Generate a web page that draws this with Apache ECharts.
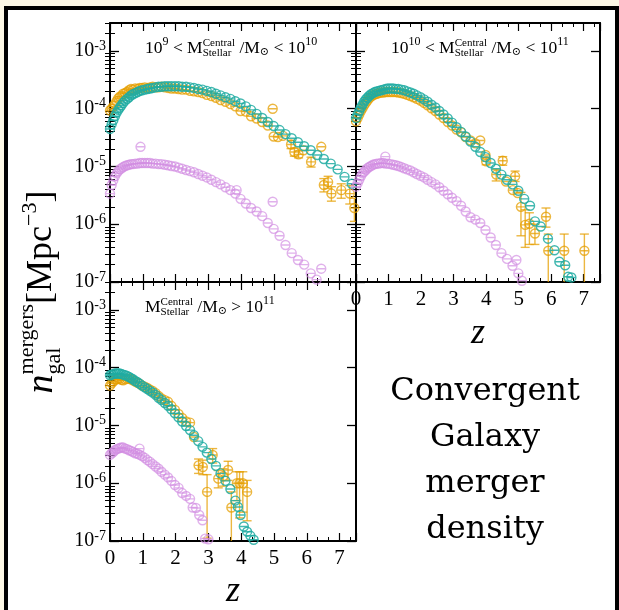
<!DOCTYPE html>
<html><head><meta charset="utf-8">
<script src="https://cdn.jsdelivr.net/npm/echarts@6.0.0/dist/echarts.min.js"></script>
<style>
html,body{margin:0;padding:0;background:#fdf8e6;width:619px;height:610px;overflow:hidden}
#frame{position:absolute;left:4px;top:6px;width:615px;height:620px;box-sizing:border-box;border:4px solid #000;background:#fff}
#chart{position:absolute;left:0;top:0;width:619px;height:610px}
</style></head><body>
<div id="frame"></div><div id="chart"></div>
<script>
// ---------------- data (z, number density in Mpc^-3) ----------------
const yMajor = [1e-7, 1e-6, 1e-5, 1e-4, 1e-3];
const yMinor = [2e-7,3e-7,4e-7,5e-7,6e-7,7e-7,8e-7,9e-7,2e-6,3e-6,4e-6,5e-6,6e-6,7e-6,8e-6,9e-6,
  2e-5,3e-5,4e-5,5e-5,6e-5,7e-5,8e-5,9e-5,2e-4,3e-4,4e-4,5e-4,6e-4,7e-4,8e-4,9e-4,2e-3,3e-3];
const panelLow = ['9', '10'];   // exponents of the mass bins
const panelHigh = ['10', '11'];

// Panel A : 1e9 < M < 1e10
const tealA = [[0,4.47e-5],[0.05,5.37e-5],[0.1,6.31e-5],[0.15,7.41e-5],[0.2,8.51e-5],[0.25,9.55e-5],[0.3,1.05e-4],[0.35,1.15e-4],[0.4,1.26e-4],[0.46,1.38e-4],[0.52,1.48e-4],[0.58,1.58e-4],[0.64,1.70e-4],[0.7,1.78e-4],[0.77,1.86e-4],[0.84,1.95e-4],[0.91,2.04e-4],[0.98,2.09e-4],[1.06,2.14e-4],[1.14,2.19e-4],[1.22,2.24e-4],[1.3,2.29e-4],[1.39,2.34e-4],[1.48,2.40e-4],[1.57,2.40e-4],[1.67,2.45e-4],[1.77,2.45e-4],[1.87,2.45e-4],[1.98,2.45e-4],[2.09,2.45e-4],[2.2,2.40e-4],[2.32,2.40e-4],[2.44,2.34e-4],[2.56,2.29e-4],[2.69,2.19e-4],[2.82,2.14e-4],[2.95,2.04e-4],[3.09,1.95e-4],[3.23,1.82e-4],[3.37,1.70e-4],[3.52,1.58e-4],[3.67,1.48e-4],[3.82,1.35e-4],[3.98,1.23e-4],[4.14,1.10e-4],[4.3,9.55e-5],[4.47,8.13e-5],[4.64,6.92e-5],[4.81,5.89e-5],[4.99,5.01e-5],[5.17,4.27e-5],[5.35,3.63e-5],[5.54,3.09e-5],[5.73,2.63e-5],[5.92,2.24e-5],[6.12,1.91e-5],[6.32,1.58e-5],[6.52,1.35e-5],[6.73,1.12e-5],[6.94,8.91e-6],[7.15,6.61e-6],[7.37,5.01e-6]];
const orangeA = [[0,9.33e-5],[0.05,1.0e-4],[0.1,1.10e-4],[0.15,1.20e-4],[0.2,1.35e-4],[0.25,1.51e-4],[0.3,1.62e-4],[0.35,1.66e-4],[0.4,1.82e-4],[0.46,1.86e-4],[0.52,1.95e-4],[0.58,2.09e-4],[0.64,2.19e-4],[0.7,2.14e-4],[0.77,2.24e-4],[0.84,2.19e-4],[0.91,2.29e-4],[0.98,2.29e-4],[1.06,2.34e-4],[1.14,2.29e-4],[1.22,2.34e-4],[1.3,2.40e-4],[1.39,2.34e-4],[1.48,2.34e-4],[1.57,2.40e-4],[1.67,2.34e-4],[1.77,2.29e-4],[1.87,2.24e-4],[1.98,2.24e-4],[2.09,2.19e-4],[2.2,2.14e-4],[2.32,2.14e-4],[2.44,2.04e-4],[2.56,2.0e-4],[2.69,1.95e-4],[2.82,1.86e-4],[2.95,1.74e-4],[3.09,1.66e-4],[3.23,1.55e-4],[3.37,1.41e-4],[3.52,1.32e-4],[3.67,1.20e-4],[3.82,1.10e-4],[3.98,9.12e-5],[4.14,8.91e-5],[4.3,7.41e-5],[4.47,6.76e-5],[4.64,5.89e-5],[4.81,5.13e-5],[4.96,1.0e-4],[4.99,3.31e-5],[5.12,3.24e-5],[5.27,3.39e-5],[5.52,2.40e-5],[5.62,1.78e-5],[5.75,1.62e-5],[5.9,1.91e-5],[6.13,1.20e-5],[6.44,2.19e-5],[6.52,4.79e-6],[6.65,5.37e-6],[6.75,3.39e-6],[7.05,3.89e-6],[7.31,3.39e-6],[7.45,1.91e-6]];
const errA = [[5.52,2.04e-5,2.82e-5],[5.62,1.51e-5,2.09e-5],[5.75,1.41e-5,1.86e-5],[6.13,9.77e-6,1.45e-5],[6.52,3.63e-6,6.17e-6],[6.65,4.17e-6,6.76e-6],[6.75,2.51e-6,4.47e-6],[7.05,2.82e-6,5.01e-6],[7.31,2.24e-6,4.68e-6],[7.45,1.12e-6,2.82e-6]];
const violetA = [[0,3.39e-6],[0.05,4.79e-6],[0.1,5.75e-6],[0.15,6.76e-6],[0.2,7.59e-6],[0.25,8.32e-6],[0.3,8.91e-6],[0.35,9.33e-6],[0.4,9.77e-6],[0.46,1.02e-5],[0.52,1.05e-5],[0.58,1.07e-5],[0.64,1.10e-5],[0.7,1.10e-5],[0.77,1.12e-5],[0.84,1.12e-5],[0.91,1.15e-5],[0.93,2.19e-5],[0.98,1.15e-5],[1.06,1.15e-5],[1.14,1.15e-5],[1.22,1.15e-5],[1.3,1.12e-5],[1.39,1.12e-5],[1.48,1.10e-5],[1.57,1.10e-5],[1.67,1.07e-5],[1.77,1.05e-5],[1.87,1.02e-5],[1.98,1.0e-5],[2.09,9.55e-6],[2.2,9.12e-6],[2.32,8.71e-6],[2.44,8.32e-6],[2.56,7.94e-6],[2.69,7.41e-6],[2.82,6.92e-6],[2.95,6.46e-6],[3.09,5.89e-6],[3.23,5.37e-6],[3.37,4.90e-6],[3.52,4.37e-6],[3.67,3.89e-6],[3.82,3.39e-6],[3.86,3.89e-6],[3.98,2.75e-6],[4.14,2.29e-6],[4.3,1.91e-6],[4.47,1.66e-6],[4.64,1.38e-6],[4.81,1.05e-6],[4.96,2.45e-6],[4.99,8.32e-7],[5.17,6.31e-7],[5.35,4.37e-7],[5.54,3.16e-7],[5.73,2.40e-7],[5.92,2.0e-7],[6.12,1.41e-7],[6.3,1.10e-7],[6.44,1.70e-7],[6.52,9.5e-8]];

// Panel B : 1e10 < M < 1e11
const tealB = [[0,6.92e-5],[0.05,7.94e-5],[0.1,9.12e-5],[0.15,1.05e-4],[0.2,1.17e-4],[0.25,1.32e-4],[0.3,1.45e-4],[0.35,1.55e-4],[0.4,1.66e-4],[0.46,1.78e-4],[0.52,1.86e-4],[0.58,1.95e-4],[0.64,2.0e-4],[0.7,2.04e-4],[0.77,2.09e-4],[0.84,2.14e-4],[0.91,2.19e-4],[0.98,2.24e-4],[1.06,2.24e-4],[1.14,2.24e-4],[1.22,2.19e-4],[1.3,2.19e-4],[1.39,2.14e-4],[1.48,2.09e-4],[1.57,2.0e-4],[1.67,1.91e-4],[1.77,1.82e-4],[1.87,1.70e-4],[1.98,1.58e-4],[2.09,1.45e-4],[2.2,1.32e-4],[2.32,1.17e-4],[2.44,1.05e-4],[2.56,9.12e-5],[2.69,7.94e-5],[2.82,6.76e-5],[2.95,5.75e-5],[3.09,4.79e-5],[3.23,3.98e-5],[3.37,3.31e-5],[3.52,2.69e-5],[3.67,2.19e-5],[3.82,1.78e-5],[3.98,1.45e-5],[4.14,1.15e-5],[4.3,9.12e-6],[4.47,7.24e-6],[4.64,5.89e-6],[4.81,4.90e-6],[4.99,3.80e-6],[5.17,2.75e-6],[5.35,2.09e-6],[5.5,1.12e-6],[5.68,9.12e-7],[5.9,5.62e-7],[6.1,3.55e-7],[6.25,2.24e-7],[6.43,1.95e-7],[6.52,1.23e-7],[6.62,1.20e-7]];
const orangeB = [[0,6.03e-5],[0.05,6.92e-5],[0.1,7.94e-5],[0.15,9.12e-5],[0.2,1.02e-4],[0.25,1.15e-4],[0.3,1.26e-4],[0.35,1.38e-4],[0.4,1.51e-4],[0.46,1.62e-4],[0.52,1.70e-4],[0.58,1.78e-4],[0.64,1.82e-4],[0.7,1.86e-4],[0.77,1.91e-4],[0.84,1.91e-4],[0.91,1.95e-4],[0.98,1.95e-4],[1.06,1.95e-4],[1.14,1.95e-4],[1.22,1.95e-4],[1.3,1.91e-4],[1.39,1.86e-4],[1.48,1.82e-4],[1.57,1.74e-4],[1.67,1.66e-4],[1.77,1.58e-4],[1.87,1.48e-4],[1.98,1.38e-4],[2.09,1.26e-4],[2.2,1.15e-4],[2.32,1.02e-4],[2.44,9.12e-5],[2.56,7.94e-5],[2.69,6.92e-5],[2.82,5.89e-5],[2.95,5.13e-5],[3.09,4.37e-5],[3.23,3.89e-5],[3.37,3.24e-5],[3.52,2.82e-5],[3.67,2.51e-5],[3.82,2.82e-5],[3.98,1.58e-5],[4.0,1.23e-5],[4.31,7.24e-6],[4.51,1.26e-5],[4.61,5.50e-6],[4.82,3.89e-6],[4.89,6.76e-6],[4.97,3.47e-6],[5.07,2.0e-6],[5.2,9.77e-7],[5.33,1.02e-6],[5.5,6.92e-7],[5.84,1.35e-6],[5.91,3.47e-7],[6.4,3.47e-7],[7.02,3.47e-7]];
const errB = [[4.0,1.07e-5,1.41e-5],[4.31,5.62e-6,8.91e-6],[4.51,1.05e-5,1.48e-5],[4.89,5.50e-6,8.32e-6],[5.07,6.31e-7,3.55e-6],[5.2,3.98e-7,1.78e-6],[5.33,4.47e-7,1.58e-6],[5.5,4.47e-7,1.0e-6],[5.84,8.91e-7,1.91e-6],[5.91,6.31e-8,6.76e-7],[6.4,6.31e-8,6.76e-7],[7.02,6.31e-8,6.76e-7]];
const violetB = [[0,4.47e-6],[0.05,5.13e-6],[0.1,5.89e-6],[0.15,6.76e-6],[0.2,7.59e-6],[0.25,8.13e-6],[0.3,8.71e-6],[0.35,9.33e-6],[0.4,9.77e-6],[0.46,1.02e-5],[0.52,1.07e-5],[0.58,1.10e-5],[0.64,1.12e-5],[0.7,1.12e-5],[0.77,1.15e-5],[0.84,1.15e-5],[0.9,1.48e-5],[0.91,1.12e-5],[0.98,1.12e-5],[1.06,1.10e-5],[1.14,1.07e-5],[1.22,1.05e-5],[1.3,1.02e-5],[1.39,9.77e-6],[1.48,9.33e-6],[1.57,8.91e-6],[1.67,8.51e-6],[1.77,7.94e-6],[1.87,7.41e-6],[1.98,6.92e-6],[2.09,6.46e-6],[2.2,5.89e-6],[2.32,5.37e-6],[2.44,4.90e-6],[2.56,4.37e-6],[2.69,3.80e-6],[2.82,3.31e-6],[2.95,2.88e-6],[3.09,2.51e-6],[3.23,2.09e-6],[3.37,1.66e-6],[3.52,1.32e-6],[3.67,1.20e-6],[3.82,1.05e-6],[3.98,7.94e-7],[4.14,5.89e-7],[4.3,4.37e-7],[4.47,3.16e-7],[4.64,2.51e-7],[4.81,1.91e-7],[4.93,2.40e-7],[4.99,1.41e-7],[5.1,1.05e-7],[5.2,9.5e-8]];

// Panel C : M > 1e11
const tealC = [[0,7.41e-5],[0.05,7.59e-5],[0.1,7.76e-5],[0.15,7.94e-5],[0.2,7.94e-5],[0.25,7.94e-5],[0.3,7.94e-5],[0.35,7.76e-5],[0.4,7.59e-5],[0.46,7.41e-5],[0.52,7.24e-5],[0.58,6.92e-5],[0.64,6.61e-5],[0.7,6.31e-5],[0.77,5.89e-5],[0.84,5.62e-5],[0.91,5.25e-5],[0.98,4.90e-5],[1.06,4.57e-5],[1.14,4.27e-5],[1.22,3.98e-5],[1.3,3.72e-5],[1.39,3.39e-5],[1.48,3.02e-5],[1.57,2.75e-5],[1.67,2.45e-5],[1.77,2.19e-5],[1.87,1.91e-5],[1.98,1.62e-5],[2.09,1.38e-5],[2.2,1.17e-5],[2.32,9.77e-6],[2.44,8.32e-6],[2.56,6.76e-6],[2.69,5.37e-6],[2.82,4.27e-6],[2.95,3.39e-6],[3.09,2.63e-6],[3.23,2.0e-6],[3.37,1.48e-6],[3.52,1.10e-6],[3.67,7.94e-7],[3.82,5.01e-7],[3.9,3.89e-7],[3.98,2.82e-7],[4.08,1.78e-7],[4.18,1.45e-7],[4.28,1.23e-7],[4.38,1.05e-7],[4.46,9.0e-8]];
const orangeC = [[0,4.90e-5],[0.05,5.37e-5],[0.1,5.75e-5],[0.15,6.17e-5],[0.2,6.31e-5],[0.25,6.46e-5],[0.3,6.46e-5],[0.35,6.17e-5],[0.4,6.03e-5],[0.46,6.31e-5],[0.52,6.46e-5],[0.58,6.46e-5],[0.64,6.31e-5],[0.7,6.03e-5],[0.77,5.75e-5],[0.84,5.50e-5],[0.91,5.25e-5],[0.98,4.90e-5],[1.06,4.68e-5],[1.14,4.47e-5],[1.22,4.17e-5],[1.3,3.98e-5],[1.39,3.63e-5],[1.48,3.24e-5],[1.57,2.95e-5],[1.67,2.75e-5],[1.77,2.57e-5],[1.87,2.19e-5],[1.98,1.86e-5],[2.09,1.58e-5],[2.2,1.35e-5],[2.32,1.17e-5],[2.44,1.12e-5],[2.56,6.31e-6],[2.7,2.04e-6],[2.83,1.91e-6],[2.96,7.08e-7],[3.13,3.09e-6],[3.3,1.20e-6],[3.45,1.32e-6],[3.6,1.70e-6],[3.7,3.80e-7],[3.87,1.0e-6],[3.95,1.0e-6],[4.05,1.0e-6],[4.18,7.08e-7]];
const errC = [[2.7,1.48e-6,2.63e-6],[2.83,1.41e-6,2.51e-6],[2.96,1.12e-7,1.41e-6],[3.13,2.24e-6,3.98e-6],[3.3,8.32e-7,1.66e-6],[3.45,8.91e-7,1.78e-6],[3.6,1.12e-6,2.40e-6],[3.7,6.31e-8,7.08e-7],[3.87,5.01e-7,1.58e-6],[3.95,2.51e-7,1.58e-6],[4.05,3.16e-7,1.58e-6],[4.18,2.24e-7,1.12e-6]];
const violetC = [[0,3.09e-6],[0.05,3.31e-6],[0.1,3.47e-6],[0.15,3.72e-6],[0.2,3.89e-6],[0.25,3.98e-6],[0.3,4.07e-6],[0.35,4.17e-6],[0.4,4.17e-6],[0.46,3.98e-6],[0.52,3.89e-6],[0.58,3.72e-6],[0.64,3.63e-6],[0.7,3.47e-6],[0.77,3.31e-6],[0.84,3.24e-6],[0.9,3.98e-6],[0.91,3.09e-6],[0.98,2.95e-6],[1.06,2.75e-6],[1.14,2.51e-6],[1.22,2.34e-6],[1.3,2.14e-6],[1.39,1.95e-6],[1.48,1.78e-6],[1.57,1.58e-6],[1.67,1.41e-6],[1.77,1.26e-6],[1.87,1.10e-6],[1.98,9.33e-7],[2.09,8.32e-7],[2.2,6.76e-7],[2.32,6.03e-7],[2.44,5.37e-7],[2.52,3.80e-7],[2.62,3.72e-7],[2.72,2.82e-7],[2.82,2.29e-7],[2.9,1.10e-7],[3.0,1.07e-7],[3.05,9.5e-8]];

// ---------------- styling / layout ----------------
const SERIF = "'Liberation Serif', 'DejaVu Serif', serif";
const C_OR = 'rgba(230,159,0,0.75)';
const C_TE = 'rgba(32,172,162,0.85)';
const C_VI = 'rgba(210,140,225,0.68)';
const YMIN = 1e-7, YMAX = 3.05e-3;
const SYM = 'path://M0,5C0,2.24 2.24,0 5,0C7.76,0 10,2.24 10,5C10,7.76 7.76,10 5,10C2.24,10 0,7.76 0,5ZM0,5L10,5';
const G = [
  {left:110, top:23, width:246, height:259},
  {left:356, top:23, width:244, height:259},
  {left:110, top:282, width:246, height:259}
];

const cv = document.createElement('canvas').getContext('2d');
function tw(t, size, it){ cv.font = (it ? 'italic ' : '') + size + 'px ' + SERIF; return cv.measureText(t).width; }
function T(t, x, y, size, it){
  return {type:'text', x:x, y:y, silent:true, style:{text:t, fontSize:size, fontFamily:SERIF,
    fontStyle: it ? 'italic' : 'normal', fill:'#000', align:'left', verticalAlign:'middle'}};
}
function segW(sg){ return sg.stack ? Math.max(tw(sg.stack[0], sg.size), tw(sg.stack[1], sg.size)) : tw(sg.t, sg.size, sg.it); }
function mathEls(segs, x0, y0){
  let x = x0; const els = [];
  segs.forEach(sg => {
    if (sg.stack) { els.push(T(sg.stack[0], x, y0 + sg.dy[0], sg.size)); els.push(T(sg.stack[1], x, y0 + sg.dy[1], sg.size)); }
    else els.push(T(sg.t, x, y0 + (sg.dy || 0), sg.size, sg.it));
    x += segW(sg);
  });
  return els;
}
function totalW(segs){ return segs.reduce((a, s) => a + segW(s), 0); }

const BS = 17.5, SS = 12;
function binTitle(lo, hi){
  return [{t:'10',size:BS},{t:lo,size:SS,dy:-6},{t:' < M',size:BS},{stack:['Central','Stellar'],size:SS-1,dy:[-5,5]},
          {t:' /M',size:BS},{t:'⊙',size:SS-1,dy:4},{t:' < 10',size:BS},{t:hi,size:SS,dy:-6}];
}
const titleC = [{t:'M',size:BS},{stack:['Central','Stellar'],size:SS-1,dy:[-5,5]},{t:' /M',size:BS},{t:'⊙',size:SS-1,dy:4},{t:' > 10',size:BS},{t:'11',size:SS,dy:-6}];
const ySegs = [{t:'n',size:38,it:true},{stack:['mergers','gal'],size:22,dy:[-15,12]},{t:'[Mpc',size:36},{t:'−3',size:22,dy:-12},{t:']',size:36}];
const yW = totalW(ySegs);

const graphic = [].concat(
  mathEls(binTitle(panelLow[0], panelLow[1]), G[0].left + 35, 48),
  mathEls(binTitle(panelHigh[0], panelHigh[1]), G[1].left + 35, 48),
  mathEls(titleC, G[2].left + 35, 307),
  [{type:'group', x:42, y:292, rotation:Math.PI/2, children: mathEls(ySegs, -yW/2, 0)}],
  [{type:'text', x:233, y:592, style:{text:'z', fontSize:36, fontStyle:'italic', fontFamily:SERIF, fill:'#000', align:'center', verticalAlign:'middle'}},
   {type:'text', x:478, y:334, style:{text:'z', fontSize:36, fontStyle:'italic', fontFamily:SERIF, fill:'#000', align:'center', verticalAlign:'middle'}},
   {type:'text', x:485, y:461, style:{text:'Convergent\nGalaxy\nmerger\ndensity', fontSize:32, fontFamily:"'DejaVu Serif', serif", lineHeight:46, fill:'#000', align:'center', verticalAlign:'middle'}}]
);

const lineSt = {color:'#000', width:2};
const xAxis = [], yAxis = [];
G.forEach((g, i) => {
  ['bottom','top'].forEach((pos, k) => {
    xAxis.push({type:'value', gridIndex:i, position:pos, min:0, max:7.5, interval:1,
      axisLine:{show:true, onZero:false, lineStyle:lineSt},
      axisTick:{show:true, inside:true, length:8, lineStyle:{color:'#000', width:1.2}},
      minorTick:{show:true, splitNumber:3, length:4, lineStyle:{color:'#000', width:1}},
      splitLine:{show:false}, minorSplitLine:{show:false},
      axisLabel:{show: i > 0 && k === 0, fontSize:21, fontFamily:SERIF, color:'#000', margin:7, showMaxLabel:false, hideOverlap:false}
    });
  });
  ['left','right'].forEach((pos, k) => {
    yAxis.push({type:'log', logBase:10, gridIndex:i, position:pos, min:YMIN, max:YMAX,
      axisLine:{show:true, onZero:false, lineStyle:lineSt},
      axisTick:{show:true, inside:true, length:9, customValues:yMajor, lineStyle:{color:'#000', width:1.3}},
      axisLabel:{show: i !== 1 && k === 0, customValues:yMajor, margin:4, hideOverlap:false,
        formatter: v => '{b|10}{s|' + Math.round(Math.log10(v)) + '}',
        rich:{b:{fontSize:20, fontFamily:SERIF, color:'#000'}, s:{fontSize:14, fontFamily:SERIF, color:'#000', padding:[0,0,10,0]}}},
      splitLine:{show:false}
    });
    yAxis.push({type:'log', logBase:10, gridIndex:i, position:pos, min:YMIN, max:YMAX,
      axisLine:{show:false},
      axisTick:{show:true, inside:true, length:5, customValues:yMinor, lineStyle:{color:'#000', width:1}},
      axisLabel:{show:false}, splitLine:{show:false}
    });
  });
});

function scat(data, color, gi){
  return {type:'scatter', xAxisIndex:2*gi, yAxisIndex:4*gi, data:data, symbol:SYM, symbolSize:9,
    itemStyle:{color:'rgba(0,0,0,0)', borderColor:color, borderWidth:1.4, opacity:1}, clip:true, silent:true, z:3};
}
function errs(data, color, gi){
  return {type:'custom', xAxisIndex:2*gi, yAxisIndex:4*gi, data:data, clip:true, silent:true, z:2,
    encode:{x:0, y:[1,2]},
    renderItem:(p, api) => {
      const x = api.value(0);
      const a = api.coord([x, api.value(2)]), b = api.coord([x, api.value(1)]);
      const w = 4.5, st = {stroke:color, lineWidth:1.4, fill:null};
      return {type:'group', children:[
        {type:'line', shape:{x1:a[0], y1:a[1], x2:b[0], y2:b[1]}, style:st},
        {type:'line', shape:{x1:a[0]-w, y1:a[1], x2:a[0]+w, y2:a[1]}, style:st},
        {type:'line', shape:{x1:b[0]-w, y1:b[1], x2:b[0]+w, y2:b[1]}, style:st}]};
    }};
}

const series = [
  scat(violetA, C_VI, 0), errs(errA, C_OR, 0), scat(orangeA, C_OR, 0), scat(tealA, C_TE, 0),
  scat(violetB, C_VI, 1), errs(errB, C_OR, 1), scat(orangeB, C_OR, 1), scat(tealB, C_TE, 1),
  scat(violetC, C_VI, 2), errs(errC, C_OR, 2), scat(orangeC, C_OR, 2), scat(tealC, C_TE, 2)
];

const chart = echarts.init(document.getElementById('chart'), null, {renderer:'canvas'});
chart.setOption({
  animation:false,
  backgroundColor:'transparent',
  grid: G.map(g => Object.assign({containLabel:false, outerBoundsMode:'none', show:false}, g)),
  xAxis, yAxis, series, graphic
});
</script></body></html>
